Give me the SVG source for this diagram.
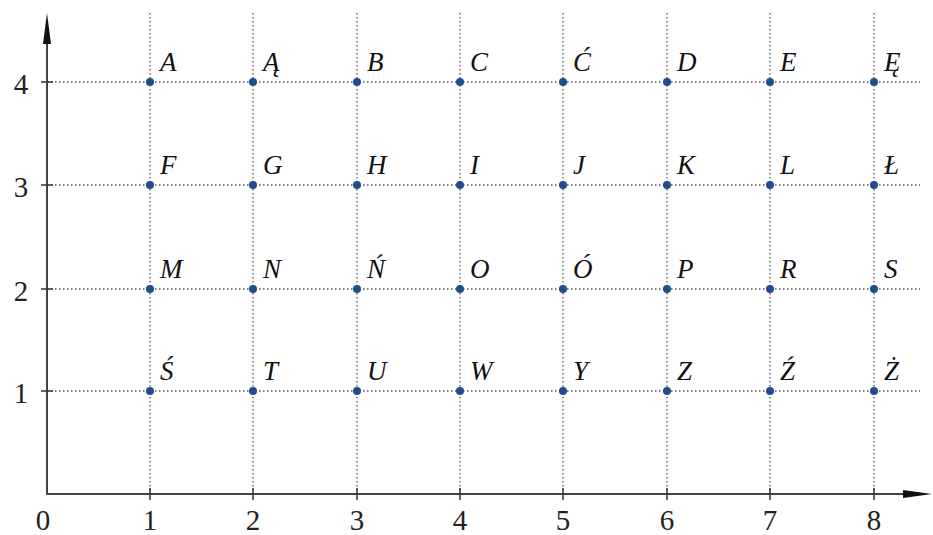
<svg xmlns="http://www.w3.org/2000/svg" width="933" height="535" viewBox="0 0 933 535">
<style>
.grid{stroke:#555;stroke-width:1.3;stroke-dasharray:1.5 2.5;fill:none}
.axis{stroke:#444;stroke-width:2;fill:none}
.tick{stroke:#333;stroke-width:1.5}
.num{font-family:"Liberation Serif","DejaVu Serif",serif;font-size:29px;fill:#222}
.lab{font-family:"Liberation Serif","DejaVu Serif",serif;font-style:italic;font-size:27px;fill:#111}
.pt{fill:#1f4e8c}
</style>
<g id="grid">
<path class="grid" d="M150,13V494M253,13V494M357,13V494M460,13V494M563,13V494M667,13V494M770,13V494M874,13V494"/>
<path class="grid" d="M47,82H920M47,185H920M47,289H920M47,391H920"/>
</g>
<g id="axes">
<line class="axis" x1="47" y1="494" x2="47" y2="44"/>
<path d="M47,13 L51,44 L43,44 Z" fill="#111"/>
<line class="axis" x1="46" y1="494" x2="903" y2="494"/>
<path d="M932,494 L903,490 L903,498 Z" fill="#111"/>
<path class="tick" d="M150,488V500M253,488V500M357,488V500M460,488V500M563,488V500M667,488V500M770,488V500M874,488V500M41,82H53M41,185H53M41,289H53M41,391H53"/>
</g>
<g id="xlabels" text-anchor="middle">
<text class="num" x="43" y="530">0</text>
<text class="num" x="150" y="530">1</text>
<text class="num" x="253" y="530">2</text>
<text class="num" x="357" y="530">3</text>
<text class="num" x="460" y="530">4</text>
<text class="num" x="563" y="530">5</text>
<text class="num" x="667" y="530">6</text>
<text class="num" x="770" y="530">7</text>
<text class="num" x="874" y="530">8</text>
</g>
<g id="ylabels" text-anchor="middle">
<text class="num" x="21" y="94">4</text>
<text class="num" x="21" y="197">3</text>
<text class="num" x="21" y="301">2</text>
<text class="num" x="21" y="403">1</text>
</g>
<g id="points">
<g id="row4">
<circle class="pt" cx="150" cy="82" r="4"/><text class="lab" x="160" y="71">A</text>
<circle class="pt" cx="253" cy="82" r="4"/><text class="lab" x="263" y="71">Ą</text>
<circle class="pt" cx="357" cy="82" r="4"/><text class="lab" x="367" y="71">B</text>
<circle class="pt" cx="460" cy="82" r="4"/><text class="lab" x="470" y="71">C</text>
<circle class="pt" cx="563" cy="82" r="4"/><text class="lab" x="573" y="71">Ć</text>
<circle class="pt" cx="667" cy="82" r="4"/><text class="lab" x="677" y="71">D</text>
<circle class="pt" cx="770" cy="82" r="4"/><text class="lab" x="780" y="71">E</text>
<circle class="pt" cx="874" cy="82" r="4"/><text class="lab" x="884" y="71">Ę</text>
</g>
<g id="row3">
<circle class="pt" cx="150" cy="185" r="4"/><text class="lab" x="160" y="174">F</text>
<circle class="pt" cx="253" cy="185" r="4"/><text class="lab" x="263" y="174">G</text>
<circle class="pt" cx="357" cy="185" r="4"/><text class="lab" x="367" y="174">H</text>
<circle class="pt" cx="460" cy="185" r="4"/><text class="lab" x="470" y="174">I</text>
<circle class="pt" cx="563" cy="185" r="4"/><text class="lab" x="573" y="174">J</text>
<circle class="pt" cx="667" cy="185" r="4"/><text class="lab" x="677" y="174">K</text>
<circle class="pt" cx="770" cy="185" r="4"/><text class="lab" x="780" y="174">L</text>
<circle class="pt" cx="874" cy="185" r="4"/><text class="lab" x="884" y="174">Ł</text>
</g>
<g id="row2">
<circle class="pt" cx="150" cy="289" r="4"/><text class="lab" x="160" y="278">M</text>
<circle class="pt" cx="253" cy="289" r="4"/><text class="lab" x="263" y="278">N</text>
<circle class="pt" cx="357" cy="289" r="4"/><text class="lab" x="367" y="278">Ń</text>
<circle class="pt" cx="460" cy="289" r="4"/><text class="lab" x="470" y="278">O</text>
<circle class="pt" cx="563" cy="289" r="4"/><text class="lab" x="573" y="278">Ó</text>
<circle class="pt" cx="667" cy="289" r="4"/><text class="lab" x="677" y="278">P</text>
<circle class="pt" cx="770" cy="289" r="4"/><text class="lab" x="780" y="278">R</text>
<circle class="pt" cx="874" cy="289" r="4"/><text class="lab" x="884" y="278">S</text>
</g>
<g id="row1">
<circle class="pt" cx="150" cy="391" r="4"/><text class="lab" x="160" y="380">Ś</text>
<circle class="pt" cx="253" cy="391" r="4"/><text class="lab" x="263" y="380">T</text>
<circle class="pt" cx="357" cy="391" r="4"/><text class="lab" x="367" y="380">U</text>
<circle class="pt" cx="460" cy="391" r="4"/><text class="lab" x="470" y="380">W</text>
<circle class="pt" cx="563" cy="391" r="4"/><text class="lab" x="573" y="380">Y</text>
<circle class="pt" cx="667" cy="391" r="4"/><text class="lab" x="677" y="380">Z</text>
<circle class="pt" cx="770" cy="391" r="4"/><text class="lab" x="780" y="380">Ź</text>
<circle class="pt" cx="874" cy="391" r="4"/><text class="lab" x="884" y="380">Ż</text>
</g>
</g>
</svg>
